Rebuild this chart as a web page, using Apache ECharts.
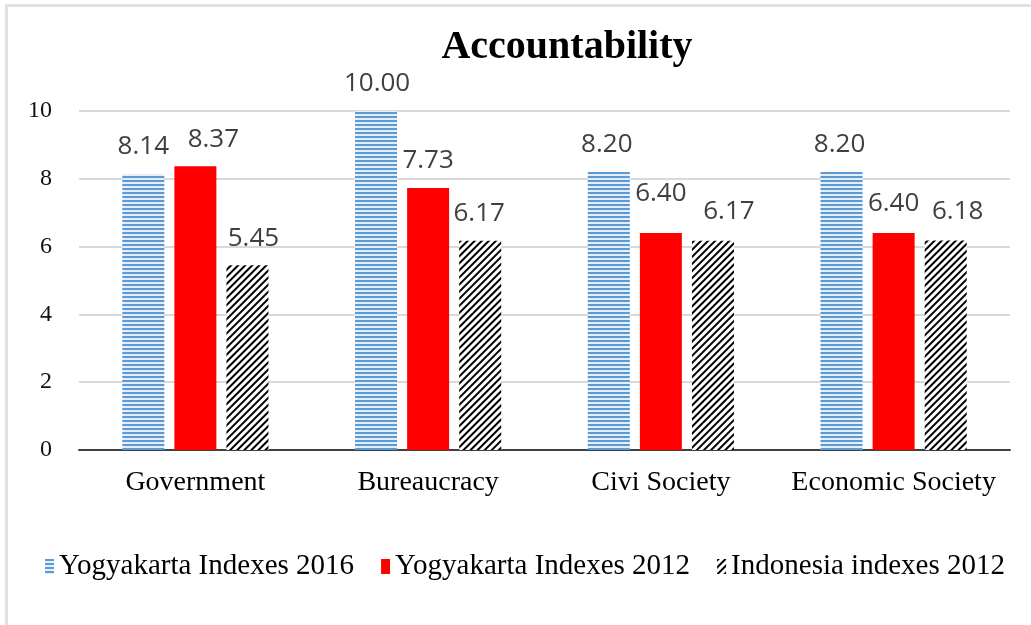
<!DOCTYPE html>
<html>
<head>
<meta charset="utf-8">
<style>
  html, body { margin: 0; padding: 0; background: #fff; }
  #main { width: 1031px; height: 625px; }
</style>
</head>
<body>
<div id="main"></div>
<script src="https://cdn.jsdelivr.net/npm/echarts@6/dist/echarts.min.js"></script>
<script>
var categories = ['Government', 'Bureaucracy', 'Civi Society', 'Economic Society'];
var yogya2016 = [8.14, 10.00, 8.20, 8.20];
var yogya2012 = [8.37, 7.73, 6.40, 6.40];
var indo2012 = [5.45, 6.17, 6.17, 6.18];

var chart = echarts.init(document.getElementById('main'));

// labels were nudged by hand in the original, copy that
function withNudge(values, nudge) {
    return values.map(function (v, i) {
        return { value: v, label: { offset: nudge[i] } };
    });
}

var labelStyle = {
    show: true,
    position: 'top',
    distance: 14,
    fontFamily: 'Open Sans',
    fontSize: 26,
    color: '#404040',
    formatter: function (p) { return p.value.toFixed(2); }
};

var option = {
    animation: false,
    title: {
        text: 'Accountability',
        left: 562,
        textAlign: 'center',
        top: 23,
        textStyle: {
            fontFamily: 'Liberation Serif',
            fontSize: 40,
            fontWeight: 'bold',
            color: '#000'
        }
    },
    graphic: [
        { type: 'rect', shape: { x: 5, y: 4, width: 3, height: 625 }, style: { fill: '#e2e2e2' } },
        { type: 'rect', shape: { x: 5, y: 4, width: 1026, height: 3 }, style: { fill: '#e2e2e2' } }
    ],
    legend: {
        left: 40,
        top: 547,
        itemWidth: 9,
        itemHeight: 15,
        itemGap: 27,
        icon: 'rect',
        textStyle: {
            fontFamily: 'Liberation Serif',
            fontSize: 29,
            color: '#000'
        },
        data: ['Yogyakarta Indexes 2016', 'Yogyakarta Indexes 2012', 'Indonesia indexes 2012']
    },
    grid: { left: 79, right: 21, top: 111, bottom: 175 },
    xAxis: {
        type: 'category',
        data: categories,
        axisTick: { show: false },
        axisLine: { lineStyle: { color: '#404040', width: 2 } },
        axisLabel: {
            interval: 0,
            margin: 19,
            fontFamily: 'Liberation Serif',
            fontSize: 28,
            color: '#000'
        }
    },
    yAxis: {
        type: 'value',
        min: 0,
        max: 10,
        interval: 2,
        axisLine: { show: false },
        axisTick: { show: false },
        splitLine: { lineStyle: { color: '#d9d9d9', width: 2 } },
        axisLabel: {
            margin: 27,
            fontFamily: 'Liberation Serif',
            fontSize: 24,
            color: '#111'
        }
    },
    series: [
        {
            name: 'Yogyakarta Indexes 2016',
            type: 'bar',
            data: withNudge(yogya2016, [[0, 0], [1, 0], [-2, 0], [-2, 0]]),
            barWidth: 42,
            barGap: '24%',
            itemStyle: {
                color: '#e6eff9',
                decal: {
                    symbol: 'rect',
                    symbolSize: 1,
                    dashArrayX: [1, 0],
                    dashArrayY: [2, 2],
                    rotation: 0,
                    color: '#5b9bd5'
                }
            },
            label: labelStyle
        },
        {
            name: 'Yogyakarta Indexes 2012',
            type: 'bar',
            data: withNudge(yogya2012, [[18, 0], [0, 0], [0, -12], [0, -2]]),
            barWidth: 42,
            barGap: '24%',
            itemStyle: { color: '#ff0000' },
            label: labelStyle
        },
        {
            name: 'Indonesia indexes 2012',
            type: 'bar',
            data: withNudge(indo2012, [[6, 0], [-1, 0], [16, -2], [12, -2]]),
            barWidth: 42,
            barGap: '24%',
            itemStyle: {
                color: '#ffffff',
                decal: {
                    symbol: 'rect',
                    symbolSize: 1,
                    dashArrayX: [1, 0],
                    dashArrayY: [2, 3],
                    rotation: -Math.PI / 4,
                    color: '#000000'
                }
            },
            label: labelStyle
        }
    ]
};

chart.setOption(option);
</script>
</body>
</html>
